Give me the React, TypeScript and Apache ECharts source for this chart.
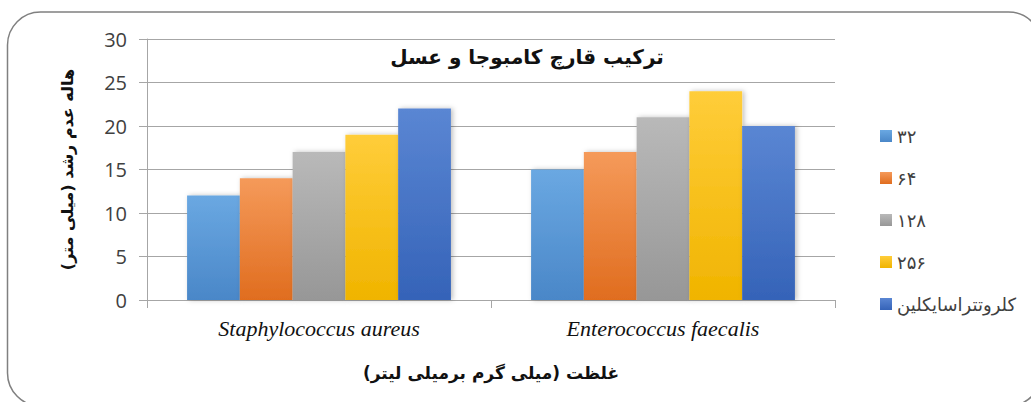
import React, { useEffect, useRef } from "react";
import * as echarts from "echarts";

const categories = ["Staphylococcus aureus", "Enterococcus faecalis"];
const seriesNames = ["۳۲", "۶۴", "۱۲۸", "۲۵۶", "کلروتتراسایکلین"];
const s32 = [12, 15];
const s64 = [14, 17];
const s128 = [17, 21];
const s256 = [19, 24];
const sChloro = [22, 20];
const yTicks = { min: 0, max: 30, interval: 5 };

const titleText = "ترکیب قارچ کامبوجا و عسل";
const yName = "هاله عدم رشد (میلی متر)";
const xName = "غلظت (میلی گرم برمیلی لیتر)";

const colorPairs: [string, string][] = [
  ["#6aa8e2", "#4a87c8"],
  ["#f59a5a", "#e06d1f"],
  ["#b9b9b9", "#979797"],
  ["#ffcd3a", "#f0b400"],
  ["#5a86d3", "#3563b8"],
];

export default function App() {
  const ref = useRef<HTMLDivElement>(null);
  useEffect(() => {
    if (!ref.current) return;
    const chart = echarts.init(ref.current, null, { renderer: "svg" });
    const values = [s32, s64, s128, s256, sChloro];
    const arabicFont = "'DejaVu Sans', 'Noto Sans', sans-serif";
    chart.setOption({
      animation: false,
      backgroundColor: "#ffffff",
      title: {
        text: titleText,
        left: 522,
        top: 42,
        textAlign: "center",
        textStyle: { fontSize: 20, fontWeight: "bold", color: "#111", fontFamily: arabicFont },
      },
      legend: {
        orient: "vertical",
        left: 875,
        top: 122,
        itemWidth: 12,
        itemHeight: 12,
        itemGap: 24,
        icon: "rect",
        data: seriesNames,
        textStyle: { fontSize: 18, color: "#404040", fontFamily: arabicFont },
      },
      grid: { left: 147, right: 196, top: 39, bottom: 102 },
      xAxis: {
        type: "category",
        data: categories,
        name: xName,
        nameLocation: "middle",
        nameGap: 64,
        nameTextStyle: { fontSize: 17, fontWeight: "bold", color: "#111", fontFamily: arabicFont },
        axisLine: { lineStyle: { color: "#a6a6a6", width: 1 } },
        axisTick: { show: true, length: 8, lineStyle: { color: "#a6a6a6" } },
        axisLabel: {
          fontFamily: "'Liberation Serif', serif",
          fontStyle: "italic",
          fontSize: 22,
          color: "#111",
          margin: 17,
        },
      },
      yAxis: {
        type: "value",
        min: yTicks.min,
        max: yTicks.max,
        interval: yTicks.interval,
        name: yName,
        nameLocation: "middle",
        nameGap: 72,
        nameRotate: 90,
        nameTextStyle: { fontSize: 16, fontWeight: "bold", color: "#111", fontFamily: arabicFont },
        axisLine: { show: true, lineStyle: { color: "#a6a6a6", width: 1 } },
        axisTick: { show: true, length: 8, lineStyle: { color: "#a6a6a6" } },
        axisLabel: { fontSize: 20, color: "#404040", fontFamily: "'Open Sans', sans-serif", margin: 20 },
        splitLine: { show: true, lineStyle: { color: "#a6a6a6", width: 1 } },
      },
      series: seriesNames.map((name, i) => ({
        name,
        type: "bar",
        data: values[i],
        barGap: "0%",
        barCategoryGap: "23.3%",
        itemStyle: {
          color: new echarts.graphic.LinearGradient(0, 0, 0, 1, [
            { offset: 0, color: colorPairs[i][0] },
            { offset: 1, color: colorPairs[i][1] },
          ]),
          shadowColor: "rgba(0,0,0,0.25)",
          shadowBlur: 5,
          shadowOffsetX: 2,
        },
      })),
      graphic: [
        {
          type: "rect",
          silent: true,
          z: 100,
          shape: { x: 7.5, y: 12, width: 1034, height: 394, r: 33 },
          style: { fill: "none", stroke: "#808080", lineWidth: 1.5 },
        },
      ],
    });
    return () => chart.dispose();
  }, []);
  return (
    <div
      ref={ref}
      style={{ position: "fixed", left: 0, top: 0, width: 1031, height: 402 }}
    />
  );
}
